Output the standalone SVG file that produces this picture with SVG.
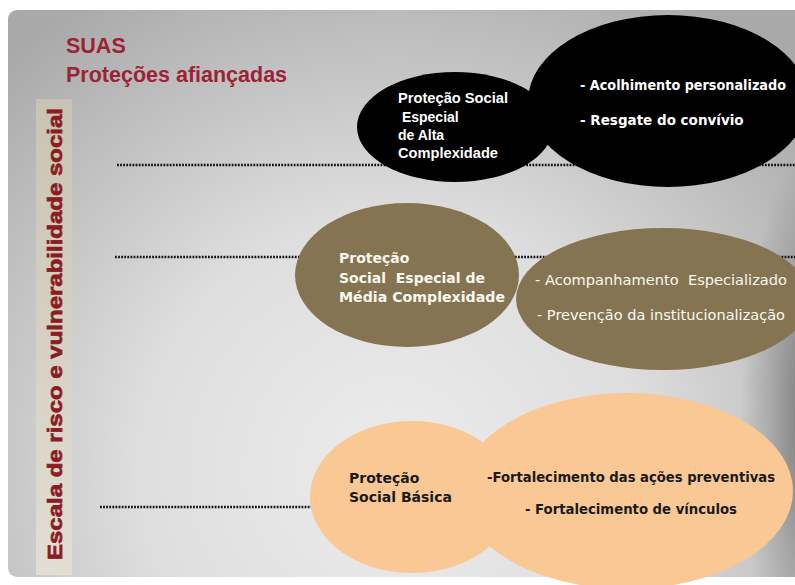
<svg xmlns="http://www.w3.org/2000/svg" width="795" height="585" viewBox="0 0 795 585">
  <defs>
    <radialGradient id="bg" gradientUnits="userSpaceOnUse" cx="390" cy="470" r="560">
      <stop offset="0" stop-color="#ececec"/>
      <stop offset="0.45" stop-color="#dedede"/>
      <stop offset="1" stop-color="#a9a9a9"/>
    </radialGradient>
    <radialGradient id="rightShade" gradientUnits="userSpaceOnUse" cx="815" cy="420" r="75" gradientTransform="translate(815 420) scale(1 3.6) translate(-815 -420)">
      <stop offset="0" stop-color="#000" stop-opacity="0.42"/>
      <stop offset="0.6" stop-color="#000" stop-opacity="0.15"/>
      <stop offset="1" stop-color="#000" stop-opacity="0"/>
    </radialGradient>
    <linearGradient id="bar" x1="0" y1="0" x2="0" y2="1">
      <stop offset="0" stop-color="#c9c3b3"/>
      <stop offset="1" stop-color="#e2ded3"/>
    </linearGradient>
  </defs>
  <style>
    .dots { stroke: #111; stroke-width: 2.4; stroke-dasharray: 1.8 1.3; fill: none; }
    .title { font-family: "Liberation Sans", Arial, sans-serif; font-weight: bold; font-size: 21.5px; fill: #9b2335; }
    .vert { font-family: "Liberation Sans", Arial, sans-serif; font-weight: bold; font-size: 21px; fill: #8a1c22; stroke: #8a1c22; stroke-width: 0.7; }
    .alta { fill: #000; }
    .media { fill: #857452; }
    .basica { fill: #f9c894; }
    .tA { font-family: "Liberation Sans", Arial, sans-serif; font-weight: bold; font-size: 14px; fill: #fff; }
    .tV { font-family: "DejaVu Sans", Verdana, sans-serif; font-weight: bold; font-size: 13.5px; fill: #fff; }
    .tM { font-family: "DejaVu Sans", Verdana, sans-serif; font-weight: bold; font-size: 14px; fill: #fbf8f0; }
    .tMr { font-family: "DejaVu Sans", Verdana, sans-serif; font-size: 14px; fill: #fbf8f0; }
    .tB { font-family: "DejaVu Sans", Verdana, sans-serif; font-weight: bold; font-size: 14px; fill: #1a1a1a; }
  </style>

  <rect x="0" y="0" width="795" height="585" fill="#ffffff"/>
  <rect id="slide" x="8" y="10" width="810" height="567" rx="9" fill="url(#bg)"/>
  <rect x="700" y="10" width="95" height="567" fill="url(#rightShade)"/>

  <g id="title">
    <text class="title" x="66" y="53">SUAS</text>
    <text class="title" x="66" y="82">Proteções afiançadas</text>
  </g>

  <g id="scale">
    <rect x="36" y="99" width="36" height="476" fill="url(#bar)"/>
    <text class="vert" transform="translate(62,560) rotate(-90)" x="0" y="0" textLength="452" lengthAdjust="spacingAndGlyphs">Escala de risco e vulnerabilidade social</text>
  </g>

  <g id="connectors">
    <line class="dots" x1="117" y1="165" x2="795" y2="165"/>
    <line class="dots" x1="115" y1="257" x2="795" y2="257"/>
    <line class="dots" x1="100" y1="507" x2="400" y2="507"/>
  </g>

  <g id="node-alta">
    <ellipse class="alta" cx="455" cy="127" rx="98" ry="55"/>
    <ellipse class="alta" cx="668" cy="101" rx="140" ry="86"/>
    <text class="tA" x="398" y="103" textLength="110" lengthAdjust="spacingAndGlyphs">Proteção Social</text>
    <text class="tA" x="398" y="122" xml:space="preserve"> Especial</text>
    <text class="tA" x="398" y="140">de Alta</text>
    <text class="tA" x="398" y="158" textLength="100" lengthAdjust="spacingAndGlyphs">Complexidade</text>
    <text class="tV" x="580" y="90" textLength="206" lengthAdjust="spacingAndGlyphs">- Acolhimento personalizado</text>
    <text class="tV" x="580" y="125">- Resgate do convívio</text>
  </g>

  <g id="node-media">
    <ellipse class="media" cx="407" cy="275" rx="112" ry="72"/>
    <ellipse class="media" cx="663" cy="299" rx="147" ry="71"/>
    <text class="tM" x="339" y="263">Proteção</text>
    <text class="tM" x="339" y="283" xml:space="preserve">Social  Especial de</text>
    <text class="tM" x="339" y="302" textLength="166" lengthAdjust="spacingAndGlyphs">Média Complexidade</text>
    <text class="tMr" x="535" y="285" xml:space="preserve" textLength="252" lengthAdjust="spacingAndGlyphs">- Acompanhamento  Especializado</text>
    <text class="tMr" x="537" y="320" textLength="248" lengthAdjust="spacingAndGlyphs">- Prevenção da institucionalização</text>
  </g>

  <g id="node-basica">
    <ellipse class="basica" cx="412" cy="497" rx="102" ry="76"/>
    <ellipse class="basica" cx="627" cy="491" rx="166" ry="98"/>
    <text class="tB" x="349" y="483">Proteção</text>
    <text class="tB" x="349" y="502">Social Básica</text>
    <text class="tB" x="487" y="482" textLength="288" lengthAdjust="spacingAndGlyphs">-Fortalecimento das ações preventivas</text>
    <text class="tB" x="525" y="514" textLength="212" lengthAdjust="spacingAndGlyphs">- Fortalecimento de vínculos</text>
  </g>
</svg>
